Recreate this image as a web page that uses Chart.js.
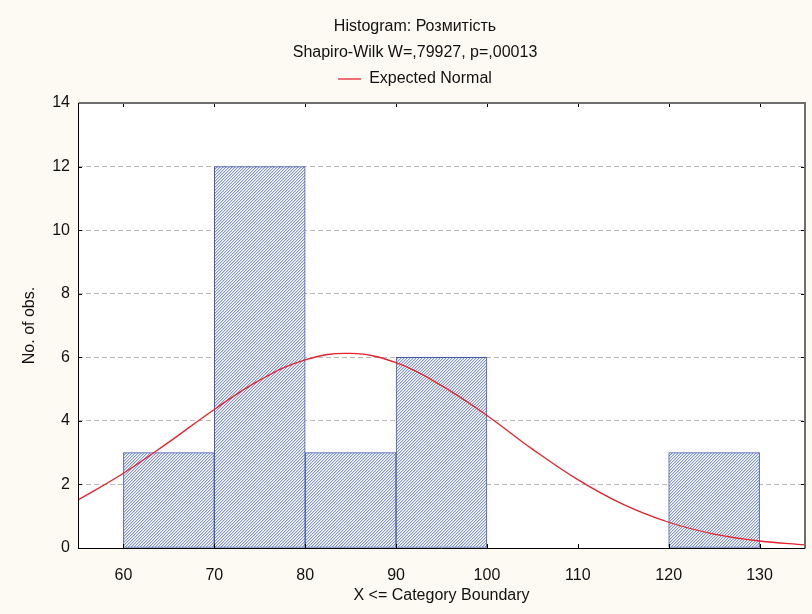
<!DOCTYPE html>
<html>
<head>
<meta charset="utf-8">
<title>Histogram: Розмитість</title>
<script src="https://cdn.jsdelivr.net/npm/chart.js@4.4.1/dist/chart.umd.min.js"></script>
<style>
  html, body { margin: 0; padding: 0; background: #fdfaf3; }
  #chart { display: block; }
</style>
</head>
<body>
<canvas id="chart" width="812" height="614"></canvas>
<script>
// дані гістограми
const binStart = [60, 70, 80, 90, 100, 110, 120];
const binWidth = 10;
const counts = [3, 12, 3, 6, 0, 0, 3];

// очікувана нормальна крива
const normX = [55, 60, 65, 70, 75, 80, 85, 90, 95, 100, 105, 110, 115, 120, 125, 130, 135];
const normY = [1.51, 2.35, 3.33, 4.36, 5.28, 5.92, 6.12, 5.83, 5.11, 4.17, 3.11, 2.15, 1.37, 0.81, 0.44, 0.22, 0.10];

// підписи осей
const xTicks = [60, 70, 80, 90, 100, 110, 120, 130];
const yTicks = [0, 2, 4, 6, 8, 10, 12, 14];

const FONT = '"Liberation Sans", Arial, sans-serif';
Chart.defaults.font.family = FONT;
Chart.defaults.font.size = 16;
Chart.defaults.color = '#111';

// штриховка стовпців (///)
function hatch(ctx) {
  const n = 3;
  const c = document.createElement('canvas');
  c.width = n; c.height = n;
  const g = c.getContext('2d');
  g.fillStyle = '#fff';
  g.fillRect(0, 0, n, n);
  for (let i = 0; i < n; i++) {
    g.fillStyle = '#8196d3';
    g.fillRect(i, n - 1 - i, 1, 1);
    g.fillStyle = '#cdd6f0';
    g.fillRect((i + 1) % n, n - 1 - i, 1, 1);
  }
  return ctx.createPattern(c, 'repeat');
}

// білий фон області, рамка і внутрішні риски
const frame = {
  id: 'frame',
  beforeDraw(chart) {
    const { ctx, chartArea: a } = chart;
    ctx.save();
    ctx.fillStyle = '#fff';
    ctx.fillRect(a.left, a.top, a.right - a.left, a.bottom - a.top);
    ctx.restore();
  },
  afterDatasetsDraw(chart) {
    const { ctx, chartArea: a, scales: { x, y } } = chart;
    ctx.save();
    ctx.strokeStyle = '#000';
    ctx.lineWidth = 1;
    ctx.beginPath();
    yTicks.forEach(v => {
      const py = Math.round(y.getPixelForValue(v)) + 0.5;
      ctx.moveTo(a.left, py); ctx.lineTo(a.left + 4, py);
      ctx.moveTo(a.right, py); ctx.lineTo(a.right - 4, py);
    });
    xTicks.forEach(v => {
      const px = Math.round(x.getPixelForValue(v)) + 0.5;
      ctx.moveTo(px, a.top); ctx.lineTo(px, a.top + 4);
      ctx.moveTo(px, a.bottom); ctx.lineTo(px, a.bottom - 4);
    });
    ctx.stroke();

    const l = Math.round(a.left) + 0.5, b = Math.round(a.bottom) + 0.5;
    const t = Math.round(a.top), r = Math.round(a.right);
    ctx.strokeStyle = '#6e6e6e';
    ctx.lineWidth = 2;
    ctx.beginPath();
    ctx.moveTo(l, t); ctx.lineTo(r, t); ctx.lineTo(r, b);
    ctx.stroke();
    ctx.strokeStyle = '#000';
    ctx.lineWidth = 1;
    ctx.beginPath();
    ctx.moveTo(l, t); ctx.lineTo(l, b); ctx.lineTo(r, b);
    ctx.stroke();
    ctx.restore();
  }
};

const canvas = document.getElementById('chart');
const ctx = canvas.getContext('2d');

new Chart(ctx, {
  type: 'bar',
  data: {
    datasets: [
      {
        type: 'line',
        label: 'Expected Normal',
        data: normX.map((v, i) => ({ x: v, y: normY[i] })),
        borderColor: '#e5222d',
        borderWidth: 1.3,
        pointRadius: 0,
        tension: 0.4,
        fill: false,
        order: 0
      },
      {
        label: 'Розмитість',
        data: binStart.map((v, i) => ({ x: v + binWidth / 2, y: counts[i] })),
        backgroundColor: hatch(ctx),
        borderColor: '#4558ab',
        borderWidth: 1,
        borderSkipped: false,
        barPercentage: 1,
        categoryPercentage: 1,
        order: 1
      }
    ]
  },
  options: {
    responsive: false,
    animation: false,
    layout: { padding: { left: 25, right: 7, top: 0, bottom: 0 } },
    plugins: {
      title: {
        display: true,
        text: ['Histogram: Розмитість', 'Shapiro-Wilk W=,79927, p=,00013'],
        font: { size: 16, weight: 'normal', lineHeight: 26 / 16 },
        padding: { top: 14, bottom: 0 },
        color: '#111'
      },
      legend: {
        labels: {
          usePointStyle: true,
          pointStyle: 'line',
          pointStyleWidth: 23,
          padding: 5,
          filter: item => item.datasetIndex === 0
        }
      },
      tooltip: { enabled: false }
    },
    scales: {
      x: {
        type: 'linear',
        offset: false,
        min: 55,
        max: 135,
        afterBuildTicks: s => { s.ticks = xTicks.map(v => ({ value: v })); },
        afterFit: s => { s.height = 66; },
        grid: { display: false, offset: false },
        border: { display: false },
        ticks: { padding: 10, maxRotation: 0 },
        title: { display: true, text: 'X <= Category Boundary', padding: { top: 0, bottom: 9 } }
      },
      x2: {
        type: 'linear',
        position: 'top',
        offset: false,
        min: 55,
        max: 135,
        grid: { display: false },
        border: { display: false },
        ticks: { display: false },
        afterFit: s => { s.height = 6; }
      },
      y: {
        min: 0,
        max: 14,
        afterBuildTicks: s => { s.ticks = yTicks.map(v => ({ value: v })); },
        afterFit: s => { s.width = 53; },
        grid: {
          drawTicks: false,
          color: c => (c.tick.value === 0 || c.tick.value === 14) ? 'rgba(0,0,0,0)' : '#b9b9b9'
        },
        border: { display: false, dash: [5, 3] },
        ticks: { padding: 8 },
        title: { display: true, text: 'No. of obs.', padding: { top: -5, bottom: 0 } }
      }
    }
  },
  plugins: [frame]
});
</script>
</body>
</html>
